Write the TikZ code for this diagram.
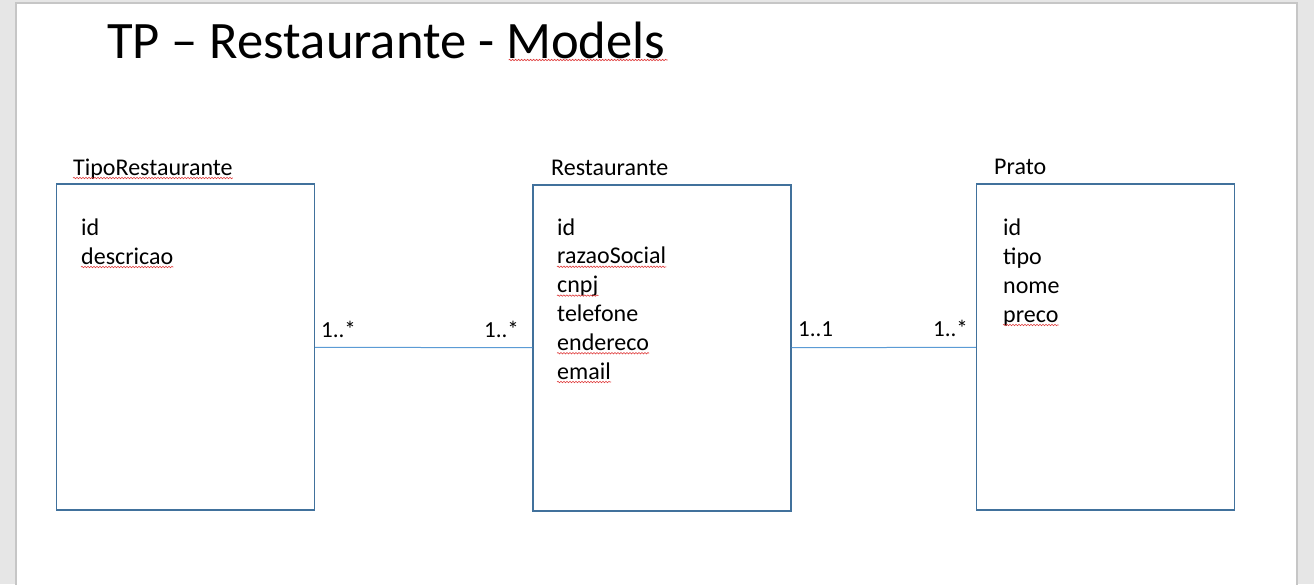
\documentclass[tikz,border=0pt]{standalone}
\usepackage{fontspec}
\setmainfont{Carlito}
\usepackage{tikz}
\tikzset{>=latex}
\usetikzlibrary{decorations.pathmorphing}
\definecolor{pagegray}{HTML}{E6E6E6}
\definecolor{pageedge}{HTML}{C6C6C6}
\definecolor{boxline}{HTML}{41719C}
\definecolor{linkline}{HTML}{5B9BD5}
\definecolor{spellred}{HTML}{E03C3C}

\begin{document}
\begin{tikzpicture}[x=1pt, y=-1pt,
    classbox/.style={draw=boxline, line width=1.1pt, rectangle, inner sep=0pt,
        minimum width=258pt, minimum height=326pt},
    link/.style={draw=linkline, line width=1pt},
    txt/.style={inner sep=0pt, anchor=base west, font=\fontsize{24}{29}\selectfont},
    mult/.style={txt, font=\fontsize{23}{28}\selectfont},
    squiggle/.style={spellred, line width=0.6pt,
        decorate, decoration={snake, segment length=3pt, amplitude=0.7pt}}]
            % page
            \useasboundingbox (0,0) rectangle (1314,584);
            \fill[pagegray] (0,0) rectangle (1314,584);
            \filldraw[fill=white, draw=pageedge, line width=1.2pt] (16,3) rectangle (1297,600);
            % title
            \node[txt, font=\fontsize{52.6}{60}\selectfont] (title) at (107,58) {TP -- Restaurante - Models};
            \draw[squiggle] ([xshift=-157pt, yshift=-2pt]title.base east) -- ([xshift=2pt, yshift=-2pt]title.base east);
            % classes
            \node[classbox] (tipo) at (185.5,347) {};
            \node[classbox] (rest) at (662,348) {};
            \node[classbox] (prato) at (1105.5,347) {};
            \node[txt] (tiponame) at (73,175) {TipoRestaurante};
            \node[txt] (restname) at (551,175) {Restaurante};
            \node[txt] (pratoname) at (994,174) {Prato};
            \draw[squiggle] ([yshift=-3pt]tiponame.base west) -- ([yshift=-3pt]tiponame.base east);
            % attributes
            \foreach \attr [count=\i] in {id, descricao}
                \node[txt] (ta\i) at (81, 235+29*\i-29) {\attr};
            \foreach \attr [count=\i] in {id, razaoSocial, cnpj, telefone, endereco, email}
                \node[txt] (ra\i) at (557, 235+28.8*\i-28.8) {\attr};
            \foreach \attr [count=\i] in {id, tipo, nome, preco}
                \node[txt] (pa\i) at (1003, 235+29*\i-29) {\attr};
            \foreach \w in {ta2, ra2, ra3, ra5, ra6, pa4}
                \draw[squiggle] ([yshift=-3pt]\w.base west) -- ([yshift=-3pt]\w.base east);
            % associations
            \draw[link] (tipo) -- (rest);
            \draw[link] (rest) -- (prato);
            \node[mult] (m1) at (321,337) {1..*};
            \node[mult] (m2) at (484,337) {1..*};
            \node[mult] (m3) at (798,336) {1..1};
            \node[mult] (m4) at (933,336) {1..*};
        \end{tikzpicture}
\end{document}
